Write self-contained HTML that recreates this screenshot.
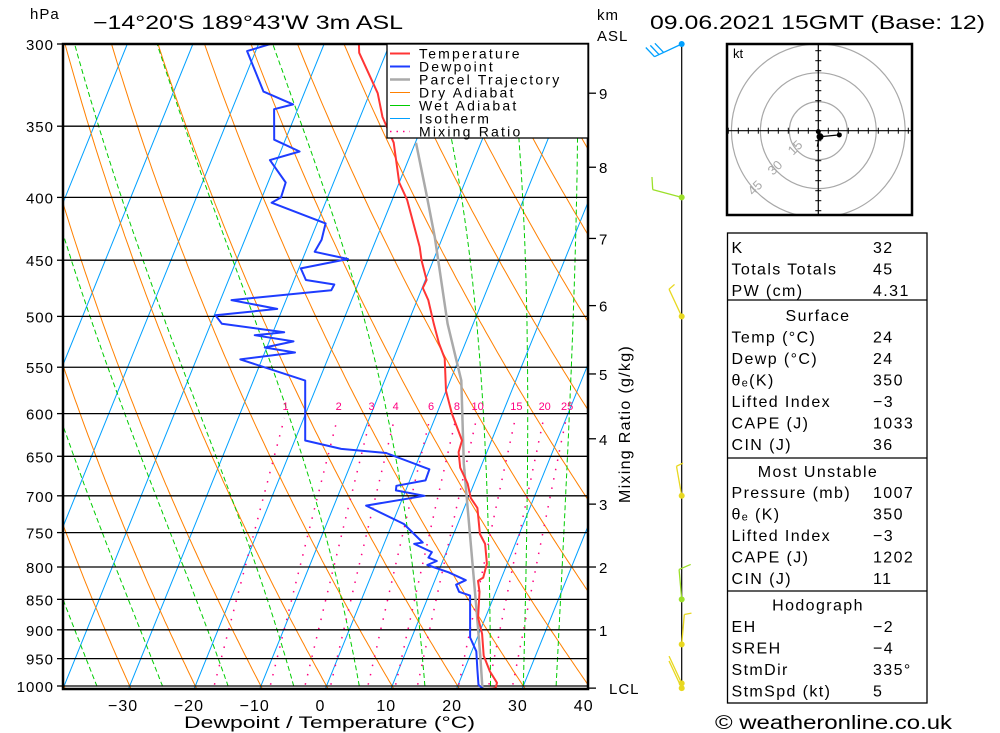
<!DOCTYPE html>
<html><head><meta charset="utf-8"><style>
html,body{margin:0;padding:0;background:#fff;}
svg{display:block;font-family:"Liberation Sans",sans-serif;}
</style></head><body>
<svg id="chart" width="1000" height="733" viewBox="0 0 1000 733" xmlns="http://www.w3.org/2000/svg">
<defs><clipPath id="plotclip"><rect x="63" y="44" width="525" height="645"/></clipPath>
<clipPath id="hodoclip"><rect x="727" y="44" width="185" height="171"/></clipPath></defs>
<rect width="1000" height="733" fill="#fff"/>
<g id="bg" clip-path="url(#plotclip)"></g>
<g id="profiles" clip-path="url(#plotclip)"></g>
<g id="axes"></g>
<g id="wind"></g>
<g id="hodo"></g>
<g id="texts"></g>
</svg>
<script>
// ---- data ----
const tempP = [300,305,329,344,361,389,402,439,450,467,474,485,507,526,541,575,600,631,645,664,684,703,716,752,766,795,816,821,838,880,907,945,973,994,1004,1006];
const tempT = [-34.7,-34.1,-28.8,-26.6,-23.3,-20.0,-17.7,-12.9,-11.8,-9.8,-9.9,-8.3,-6.0,-4.0,-2.2,0.0,2.3,5.5,5.7,6.9,9.0,10.4,12.0,14.0,15.4,16.9,17.2,16.6,17.5,18.9,20.5,22.1,24.0,25.8,25.9,24.5];
const dewP = [300,304,328,336,339,359,367,373,389,400,404,420,433,443,449,457,467,471,476,485,493,499,507,515,518,524,530,535,542,564,631,641,646,666,680,687,693,700,713,738,764,766,778,786,791,797,808,820,827,838,844,913,937,970,998,1005];
const dewT = [-48.2,-51.3,-46.3,-41.0,-43.6,-41.7,-37.1,-41.1,-37.3,-37.1,-38.2,-28.7,-28.3,-28.6,-23.1,-29.7,-28.2,-23.6,-23.7,-38.3,-30.8,-39.8,-38.3,-28.3,-32.6,-26.3,-30.3,-25.4,-33.3,-22.1,-18.4,-12.4,-5.3,2.3,2.4,-1.7,-1.5,3.2,-5.1,1.8,5.8,4.6,7.8,7.6,9.1,7.9,11.6,14.7,13.5,14.4,16.3,18.9,20.7,22.0,23.1,24.0];
const parcelP = [1004,948,874,659,564,507,431,397,361];
const parcelT = [23.9,21.7,18.5,7.2,1.7,-3.9,-11.2,-15.2,-19.9];
const pLevels = [300,350,400,450,500,550,600,650,700,750,800,850,900,950,1000];
const tTicks = [-30,-20,-10,0,10,20,30,40];
const mixRatios = [1,2,3,4,6,8,10,15,20,25];
const moistStarts = [-35,-25,-15,-5,5,15,25,30,35];
const kmLabels = ["9","8","7","6","5","4","3","2","1","LCL"];
const kmPres = [329,378,432,490,557,629,711,800,900,1004];
const windP = [300,400,500,700,850,925,995,1004];
const windDir = [245,285,335,350,355,5,335,335];
const windSpd = [30,10,5,5,10,5,0,0];
const windCol = ["#00a0ff","#9ce02a","#e8d820","#e8d820","#9ce02a","#e8d820","#e8d820","#e8d820"];
const hodoU = [10.9,0.9,0.0];
const hodoV = [-2.2,-3.1,-0.5];
const hodoRings = [15,30,45];

// ---- axis functions ----
const NS="http://www.w3.org/2000/svg";
function yP(p){return 44+642*Math.log(p/300)/Math.log(1000/300);}
function xT(T,p){return 326.5+6.56*T+0.405*(686-yP(p));}
function mk(tag,attrs,parent){const e=document.createElementNS(NS,tag);for(const k in attrs)e.setAttribute(k,attrs[k]);parent.appendChild(e);return e;}
function pathFrom(ps,ts){return ps.map((p,i)=>(i?'L':'M')+xT(ts[i],p).toFixed(1)+','+yP(p).toFixed(1)).join('');}
const bg=document.getElementById('bg'),prof=document.getElementById('profiles'),ax=document.getElementById('axes');

// isotherms
for(let T=-110;T<=40;T+=10){
  const e=mk('line',{x1:xT(T,1015),y1:yP(1015),x2:xT(T,300),y2:yP(300),stroke:'#00a0ff','stroke-width':1},bg);
  
  
}
// dry adiabats
const pSamp=[];for(let p=1015;p>=295;p-=5)pSamp.push(p);
for(let th=-60;th<=160;th+=10){
  const K=th+273.15;
  const e=mk('path',{d:pathFrom(pSamp,pSamp.map(p=>K*Math.pow(p/1000,0.2857)-273.15)),fill:'none',stroke:'#ff8000','stroke-width':1},bg);
  
  
}
// moist adiabats
function es(Tc){return 6.112*Math.exp(17.67*Tc/(Tc+243.5));}
function dTdp(Tk,p){const r=0.622*es(Tk-273.15)/(p-es(Tk-273.15));return (287*Tk+2.5e6*r)/(1005+2.5e6*2.5e6*r*0.622/(287*Tk*Tk))/p;}
for(const T0 of moistStarts){
  let T=T0+273.15,p=1000;const ps=[],ts=[];
  let Tb=T;for(let q=1000;q<1015;q+=1){Tb+=dTdp(Tb,q)*1;}
  ps.push(1015);ts.push(Tb-273.15);
  while(p>=295){ps.push(p);ts.push(T-273.15);T-=dTdp(T,p)*2;p-=2;}
  const e=mk('path',{d:pathFrom(ps,ts),fill:'none',stroke:'#00cc00','stroke-width':1,'stroke-dasharray':'5,3'},bg);
  
  
}
// mixing ratio
function tdFromW(w,p){const e=w*p/(622+w);const l=Math.log(e/6.112);return 243.5*l/(17.67-l);}
const pm=[];for(let p=1015;p>=600;p-=10)pm.push(p);
mixRatios.forEach(w=>{
  const e=mk('path',{d:pathFrom(pm,pm.map(p=>tdFromW(w,p))),fill:'none',stroke:'#ff0080','stroke-width':1.5,'stroke-dasharray':'1.5,8'},bg);
  
  
  const t=mk('text',{x:xT(tdFromW(w,600),600),y:410,'font-size':11,fill:'#ff0080','text-anchor':'middle'},ax);
  t.textContent=String(w);
  
  
});
// pressure lines
pLevels.forEach(p=>{
  const y=yP(p);
  const l=mk('line',{x1:63,y1:y,x2:588,y2:y,stroke:'#000','stroke-width':1.3},bg);
  
  
  mk('line',{x1:57,y1:y,x2:63,y2:y,stroke:'#000','stroke-width':1.3},ax);
  const t=mk('text',{x:54,y:y+6,'font-size':15,'text-anchor':'end','letter-spacing':1},ax);
  t.textContent=String(p);
  
  
});
// profiles
let e;
e=mk('path',{d:pathFrom(parcelP,parcelT),fill:'none',stroke:'#aaaaaa','stroke-width':2.5},prof);


e=mk('path',{d:pathFrom(dewP,dewT),fill:'none',stroke:'#1e3cff','stroke-width':2,'stroke-linejoin':'round'},prof);


e=mk('path',{d:pathFrom(tempP,tempT),fill:'none',stroke:'#ff3535','stroke-width':2,'stroke-linejoin':'round'},prof);



// frame
e=mk('rect',{x:63,y:44,width:525,height:645,fill:'none',stroke:'#000','stroke-width':2.5},ax);


// x tick labels
tTicks.forEach(T=>{
  const t=mk('text',{x:320.5+6.58*T,y:711,'font-size':16,'text-anchor':'middle','letter-spacing':1},ax);
  t.textContent=(T<0?'\u2212'+(-T):String(T));
  
  
});
// km axis
kmLabels.forEach((s,i)=>{
  const y=yP(kmPres[i]);
  mk('line',{x1:588,y1:y,x2:596,y2:y,stroke:'#000','stroke-width':1.3},ax);
  const t=mk('text',{x:s==='LCL'?609:599,y:y+6,'font-size':15,'letter-spacing':1},ax);
  t.textContent=s;
  
  
});

// legend
const leg=mk('g',{},ax);


mk('rect',{x:387,y:44,width:201,height:94,fill:'#fff',stroke:'#000','stroke-width':1.3},leg);
const legItems=[['Temperature','#ff3535',2,''],['Dewpoint','#1e3cff',2,''],['Parcel Trajectory','#aaaaaa',2.5,''],['Dry Adiabat','#ff8000',1,''],['Wet Adiabat','#00cc00',1,''],['Isotherm','#00a0ff',1,''],['Mixing Ratio','#ff0080',1.5,'1.5,5']];
legItems.forEach((it,i)=>{
  const y=53.5+i*13;
  const g=mk('g',{},leg);
  
  
  mk('line',{x1:390,y1:y,x2:410,y2:y,stroke:it[1],'stroke-width':it[2],'stroke-dasharray':it[3]},g);
  const t=mk('text',{x:419,y:y+5,'font-size':14,'letter-spacing':2.2},g);
  t.textContent=it[0];
});

// wind barbs
const wg=document.getElementById('wind');
mk('line',{x1:681.7,y1:44,x2:681.7,y2:690,stroke:'#000','stroke-width':1.2},wg);
windP.forEach((p,i)=>{
  const x=681.7,y=yP(p),d=windDir[i]*Math.PI/180,c=windCol[i];
  const sx=Math.sin(d),sy=-Math.cos(d),px=-sy,py=sx,L=30;
  const g=mk('g',{},wg);
  
  
  mk('line',{x1:x,y1:y,x2:x+sx*L,y2:y+sy*L,stroke:c,'stroke-width':1.3},g);
  let s=windSpd[i],k=0;
  while(s>=10){const bx=x+sx*(L-k*5),by=y+sy*(L-k*5);mk('line',{x1:bx,y1:by,x2:bx+px*12+sx*4,y2:by+py*12+sy*4,stroke:c,'stroke-width':1.3},g);s-=10;k++;}
  if(s>=5){const bx=x+sx*(L-k*5),by=y+sy*(L-k*5);mk('line',{x1:bx,y1:by,x2:bx+px*7+sx*2,y2:by+py*7+sy*2,stroke:c,'stroke-width':1.3},g);}
  mk('circle',{cx:x,cy:y,r:3,fill:c},g);
});

// hodograph
const hg=document.getElementById('hodo');


const hcx=818.3,hcy=130.7,hs=1.93;
const hc=mk('g',{'clip-path':'url(#hodoclip)'},hg);
hodoRings.forEach(r=>{
  const c=mk('circle',{cx:hcx,cy:hcy,r:r*hs,fill:'none',stroke:'#a8a8a8','stroke-width':1.2},hc);
  
  
  const a=225*Math.PI/180,rx=hcx+Math.sin(a)*r*hs*0.98,ry=hcy-Math.cos(a)*r*hs*0.98;
  const t=mk('text',{x:rx,y:ry,'font-size':13,fill:'#a8a8a8','text-anchor':'middle','transform':`rotate(-45 ${rx} ${ry})`},hc);
  t.textContent=String(r);
});
mk('line',{x1:727,y1:hcy,x2:912,y2:hcy,stroke:'#000','stroke-width':1.2},hg);
mk('line',{x1:hcx,y1:44,x2:hcx,y2:215,stroke:'#000','stroke-width':1.2},hg);
for(let k=-9;k<=9;k++){if(!k)continue;const d=k*10;
  mk('line',{x1:hcx+d,y1:hcy-3,x2:hcx+d,y2:hcy+3,stroke:'#000'},hg);
  if(Math.abs(d)<86)mk('line',{x1:hcx-3,y1:hcy+d,x2:hcx+3,y2:hcy+d,stroke:'#000'},hg);}
mk('path',{d:hodoU.map((u,i)=>(i?'L':'M')+(hcx+u*hs).toFixed(1)+','+(hcy-hodoV[i]*hs).toFixed(1)).join(''),fill:'none',stroke:'#000','stroke-width':1.2},hg);
hodoU.forEach((u,i)=>mk('circle',{cx:hcx+u*hs,cy:hcy-hodoV[i]*hs,r:i==1?3.5:2.5,fill:'#000'},hg));
mk('line',{x1:hcx+1,y1:hcy+4,x2:hcx-1,y2:hcy+16,stroke:'#000','stroke-width':1.2},hg);
mk('rect',{x:727,y:44,width:185,height:171,fill:'none',stroke:'#000','stroke-width':2.5},hg);
let t=mk('text',{x:733,y:58,'font-size':13},hg);t.textContent='kt';

// stats table
const tg=document.getElementById('texts');
mk('rect',{x:727.5,y:233,width:199.5,height:470,fill:'none',stroke:'#000','stroke-width':1.3},tg);
[300,458,591].forEach(y=>mk('line',{x1:727.5,y1:y,x2:927,y2:y,stroke:'#000','stroke-width':1.3},tg));
const rows=[[253,'K','32'],[274.5,'Totals Totals','45'],[296,'PW (cm)','4.31'],[321,'@Surface',''],[342.5,'Temp (\u00b0C)','24'],[364,'Dewp (\u00b0C)','24'],[385.5,'\u03b8\u2091(K)','350'],[407,'Lifted Index','\u22123'],[428.5,'CAPE (J)','1033'],[450,'CIN (J)','36'],[477,'@Most Unstable',''],[498,'Pressure (mb)','1007'],[519.5,'\u03b8\u2091 (K)','350'],[541,'Lifted Index','\u22123'],[562.5,'CAPE (J)','1202'],[584,'CIN (J)','11'],[610.5,'@Hodograph',''],[632,'EH','\u22122'],[653.5,'SREH','\u22124'],[675,'StmDir','335\u00b0'],[696.5,'StmSpd (kt)','5']];
rows.forEach(r=>{
  if(r[1][0]==='@'){
    const h=mk('text',{x:818,y:r[0],'font-size':16,'text-anchor':'middle','letter-spacing':1.4},tg);h.textContent=r[1].slice(1);
    
    
  }else{
    const a=mk('text',{x:731.5,y:r[0],'font-size':16,'letter-spacing':1.4},tg);a.textContent=r[1];
    
    
    const b=mk('text',{x:873,y:r[0],'font-size':16,'letter-spacing':1.4},tg);b.textContent=r[2];
    
    
  }
});
</script>
<script>
const svg=document.getElementById('chart');
function tx(x,y,s,size,attrs,name){const e=document.createElementNS("http://www.w3.org/2000/svg",'text');e.setAttribute('x',x);e.setAttribute('y',y);e.setAttribute('font-size',size);for(const k in attrs)e.setAttribute(k,attrs[k]);e.textContent=s;


svg.appendChild(e);return e;}
tx(30,19,'hPa',15,{'letter-spacing':1},'pressure-unit-label');
tx(93,29,'\u221214\u00b020\'S 189\u00b043\'W 3m ASL',19,{textLength:310,lengthAdjust:'spacingAndGlyphs'},'location-title');
tx(597,20,'km',15,{'letter-spacing':1},'km-unit-label');
tx(597,41,'ASL',15,{'letter-spacing':1},'asl-label');
tx(650,29,'09.06.2021 15GMT (Base: 12)',19,{textLength:335,lengthAdjust:'spacingAndGlyphs'},'date-title');
tx(184,728,'Dewpoint / Temperature (\u00b0C)',17,{textLength:291,lengthAdjust:'spacingAndGlyphs'},'x-axis-title');
tx(630,424,'Mixing Ratio (g/kg)',16,{'text-anchor':'middle','letter-spacing':1.3,transform:'rotate(-90 630 424)'},'mixing-ratio-axis-title');
tx(715,729,'\u00a9 weatheronline.co.uk',19,{textLength:237,lengthAdjust:'spacingAndGlyphs'},'copyright-footer');
</script>
</body></html>
